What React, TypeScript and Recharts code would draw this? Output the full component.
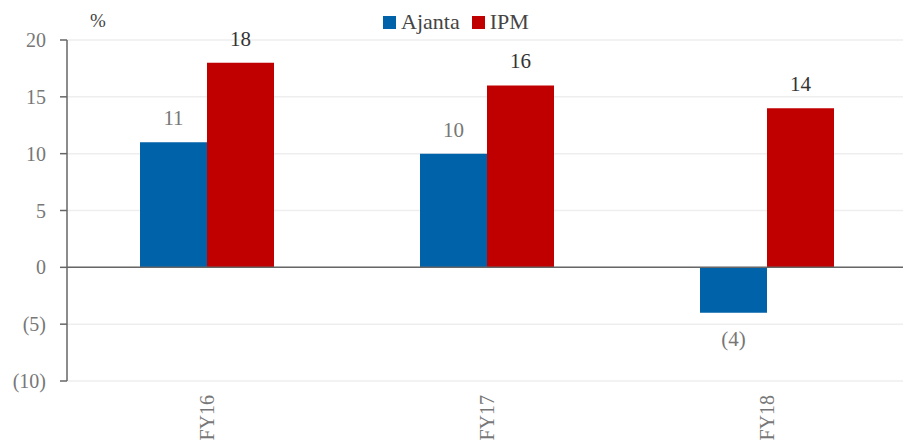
import React from "react";
import {
  BarChart, Bar, XAxis, YAxis, CartesianGrid, ReferenceLine, LabelList,
} from "recharts";

const years = ["FY16", "FY17", "FY18"];
const ajanta = [11, 10, -4];
const ipm = [18, 16, 14];
const yTicks = [-10, -5, 0, 5, 10, 15, 20];

const data = years.map((year, i) => ({ year, ajanta: ajanta[i], ipm: ipm[i] }));

const FONT = "'Liberation Serif', 'DejaVu Serif', serif";
const BLUE = "#0062A8";
const RED = "#C00000";

const fmt = (v: number) => (v < 0 ? `(${Math.abs(v)})` : `${v}`);

function LegendBox() {
  return (
    <div
      style={{
        position: "absolute", left: 383, top: 9, display: "flex", gap: 12,
        fontFamily: FONT, fontSize: 22, color: "#444",
      }}
    >
      <span style={{ display: "flex", alignItems: "center", gap: 5 }}>
        <span style={{ width: 13, height: 13, background: BLUE, display: "inline-block" }} />
        Ajanta
      </span>
      <span style={{ display: "flex", alignItems: "center", gap: 5 }}>
        <span style={{ width: 13, height: 13, background: RED, display: "inline-block" }} />
        IPM
      </span>
    </div>
  );
}

function YearTick({ x, y, payload }: any) {
  return (
    <text
      x={x}
      y={y}
      transform={`rotate(-90 ${x} ${y})`}
      dx={-6}
      dy={7}
      textAnchor="end"
      fill="#777"
      fontSize={20}
      fontFamily={FONT}
    >
      {payload.value}
    </text>
  );
}

function AjantaLabel({ x, y, width, height, value }: any) {
  const top = Math.min(y, y + height);
  const bottom = Math.max(y, y + height);
  const ty = value < 0 ? bottom + 33 : top - 17;
  return (
    <text x={x + width / 2} y={ty} textAnchor="middle" fill="#777" fontSize={21} fontFamily={FONT}>
      {fmt(value)}
    </text>
  );
}

export default function App() {
  return (
    <div style={{ position: "absolute", left: 0, top: 0, width: 903, height: 443, background: "#fff", overflow: "hidden" }}>
      <div style={{ position: "absolute", left: 90, top: 10, fontFamily: FONT, fontSize: 19, color: "#444" }}>
        %
      </div>
      <LegendBox />
      <BarChart
        width={907}
        height={443}
        data={data}
        margin={{ top: 40, right: 0, bottom: 0, left: 0 }}
        barCategoryGap={73}
        barGap={0}
      >
        <CartesianGrid horizontal vertical={false} stroke="#eeeeee" strokeWidth={1.5} />
        <XAxis
          dataKey="year"
          axisLine={false}
          tickLine={false}
          height={62}
          interval={0}
          tick={<YearTick />}
        />
        <YAxis
          domain={[-10, 20]}
          ticks={yTicks}
          width={67}
          tickFormatter={fmt}
          axisLine={{ stroke: "#666", strokeWidth: 1.5 }}
          tickLine={{ stroke: "#666", strokeWidth: 1.5 }}
          tickSize={7}
          tickMargin={14}
          tick={{ fill: "#777", fontSize: 20, fontFamily: FONT }}
        />
        <ReferenceLine y={0} stroke="#666" strokeWidth={1.5} />
        <Bar dataKey="ajanta" fill={BLUE} isAnimationActive={false}>
          <LabelList dataKey="ajanta" content={<AjantaLabel />} />
        </Bar>
        <Bar dataKey="ipm" fill={RED} isAnimationActive={false}>
          <LabelList
            dataKey="ipm"
            position="top"
            offset={17}
            fill="#333"
            fontSize={21}
            fontFamily={FONT}
          />
        </Bar>
      </BarChart>
    </div>
  );
}
